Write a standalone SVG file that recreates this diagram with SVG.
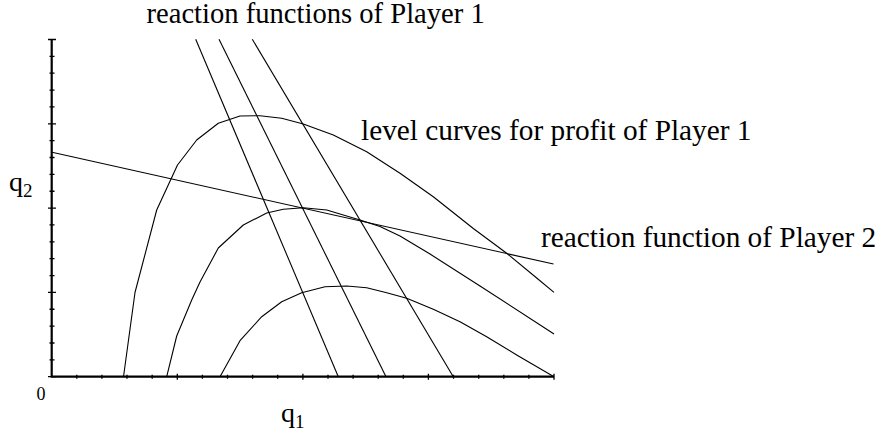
<svg xmlns="http://www.w3.org/2000/svg" width="878" height="437" viewBox="0 0 878 437">
<style>
.ax{stroke:#000;stroke-width:2.2;fill:none}
.tk{stroke:#000;stroke-width:1.3;fill:none}
.ln{stroke:#000;stroke-width:1.1;fill:none;stroke-linejoin:round}
</style>
<rect width="878" height="437" fill="#fff"/>
<g id="axes">
<path class="ax" d="M51.7,39.5 V376.7 H554"/>
<path class="tk" d="M48,376.7H56M49.5,359.84H54.5M49.5,342.98H54.5M49.5,326.12H54.5M49.5,309.26H54.5M48,292.4H56M49.5,275.54H54.5M49.5,258.68H54.5M49.5,241.82H54.5M49.5,224.96H54.5M48,208.1H56M49.5,191.24H54.5M49.5,174.38H54.5M49.5,157.52H54.5M49.5,140.66H54.5M48,123.8H56M49.5,106.94H54.5M49.5,90.08H54.5M49.5,73.22H54.5M49.5,56.36H54.5M48,39.5H56"/>
<path class="tk" d="M76.8,374.7V378.7M101.9,374.7V378.7M127,374.7V378.7M152.2,374.7V378.7M177.3,373.7V379.7M202.4,374.7V378.7M227.5,374.7V378.7M252.6,374.7V378.7M277.7,374.7V378.7M302.9,373.7V379.7M328,374.7V378.7M353.1,374.7V378.7M378.2,374.7V378.7M403.3,374.7V378.7M428.4,373.7V379.7M453.5,374.7V378.7M478.7,374.7V378.7M503.8,374.7V378.7M528.9,374.7V378.7M554,373.7V379.7"/>
</g>
<g id="reaction-player1">
<path class="ln" d="M195.7,39.3L338.3,376.7"/>
<path class="ln" d="M219,39.3L386,376.7"/>
<path class="ln" d="M252.3,39.3L453.3,376.7"/>
</g>
<g id="reaction-player2">
<path class="ln" d="M52,152.3L553.5,264"/>
</g>
<g id="level-curves">
<path class="ln" d="M123.5,376.7L135,292.5L156.7,210L177.5,165L196.7,140L218.3,123.3L240,116L260,115.7L281.7,118.3L303.3,124L333.3,135L366.7,151.7L400,173.3L433.3,196.7L473.3,228.5L506.7,253.3L536.7,278L554,292.4"/>
<path class="ln" d="M166.7,376.7L176.7,336L191.7,300L200,282L218.3,248L243.3,225L266.7,213L283.3,209.3L303.3,207.7L326.7,210L360,220L380,226.5L400,236L430,254L480,286L554,334"/>
<path class="ln" d="M220,376.7L240,340.7L261.7,316.7L281.7,301.7L301.7,292.7L325,286.7L346.7,286L366.7,287.7L386.7,292.7L406.7,298.3L433.3,309.3L460,321.7L486.7,336.7L516.7,355L554,376.7"/>
</g>
<g id="labels" font-family="'Liberation Serif', 'Times New Roman', Tinos, 'DejaVu Serif', serif" fill="#000">
<text x="146.5" y="23" font-size="28.6">reaction functions of Player 1</text>
<text x="361" y="140" font-size="29.3">level curves for profit of Player 1</text>
<text x="541" y="247" font-size="29.3">reaction function of Player 2</text>
<text x="9" y="191" font-size="28">q<tspan font-size="19" dy="6">2</tspan></text>
<text x="281" y="421.5" font-size="28">q<tspan font-size="19" dy="6">1</tspan></text>
<text x="36.5" y="399.5" font-size="18">0</text>
</g>
</svg>
